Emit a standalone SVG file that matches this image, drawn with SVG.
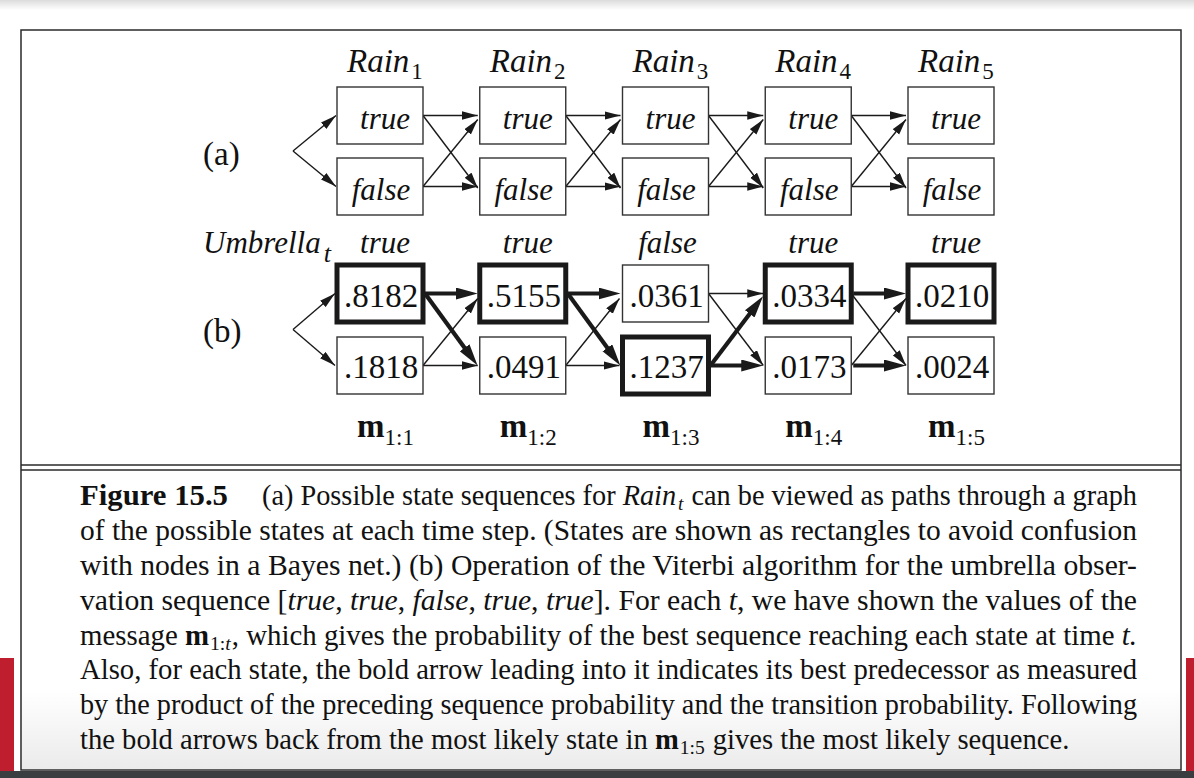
<svg xmlns="http://www.w3.org/2000/svg" width="1194" height="778" viewBox="0 0 1194 778">
<style>
.t{font-family:"Liberation Serif","Times New Roman",serif;fill:#111}
.it{font-style:italic}
.bd{font-weight:bold}
.lab{font-size:31px}
.rain{font-size:33px}
.num{font-size:33px}
.mid{text-anchor:middle}
.sub{font-size:23px}
.cap{font-size:28.6px}
.csub{font-size:19.5px}
.box{fill:#fff;stroke:#333;stroke-width:1.4}
.boxb{fill:#fff;stroke:#1a1a1a;stroke-width:5}
.thin{stroke:#1a1a1a;stroke-width:1.4;fill:none;marker-end:url(#ah)}
.bold{stroke:#1a1a1a;stroke-width:4.2;fill:none;marker-end:url(#ahb)}
</style>
<defs>
<marker id="ah" markerUnits="userSpaceOnUse" markerWidth="17" markerHeight="9" refX="16" refY="4.25" orient="auto"><path d="M0,0 L16,4.25 L0,8.5 z" fill="#1a1a1a"/></marker>
<marker id="ahb" markerUnits="userSpaceOnUse" markerWidth="23" markerHeight="13" refX="11" refY="6" orient="auto"><path d="M0,0 L22,6 L0,12 z" fill="#1a1a1a"/></marker>
<linearGradient id="topg" x1="0" y1="0" x2="0" y2="1"><stop offset="0" stop-color="#dcdcdc"/><stop offset="1" stop-color="#ffffff"/></linearGradient>
<linearGradient id="botg" x1="0" y1="0" x2="0" y2="1"><stop offset="0" stop-color="#ffffff"/><stop offset="1" stop-color="#ebebeb"/></linearGradient>
</defs>
<rect x="0" y="0" width="1194" height="778" fill="#ffffff"/>
<rect x="0" y="0" width="1194" height="10" fill="url(#topg)"/>
<g id="frame">
<rect x="21" y="30" width="1160" height="740" fill="#ffffff"/>
<rect x="22" y="690" width="1158" height="79" fill="url(#botg)"/>
<rect x="21" y="30" width="1160" height="740" fill="none" stroke="#2a2a2a" stroke-width="1.5"/>
<line x1="21" y1="465" x2="1181" y2="465" stroke="#2a2a2a" stroke-width="1.6"/>
<line x1="21" y1="470" x2="1181" y2="470" stroke="#2a2a2a" stroke-width="1.6"/>
</g>
<rect x="0" y="771" width="1194" height="7" fill="#3b3e41"/>
<rect x="0" y="658" width="14" height="113" fill="#be1e2d"/>
<rect x="1186" y="658" width="8" height="113" fill="#be1e2d"/>

<g id="labels">
<text class="t rain" x="203" y="165">(a)</text>
<text class="t rain" x="203" y="342">(b)</text>
<text class="t rain it" x="347" y="72">Rain<tspan class="sub" dy="7" dx="2" font-style="normal">1</tspan></text>
<text class="t rain it" x="489.75" y="72">Rain<tspan class="sub" dy="7" dx="2" font-style="normal">2</tspan></text>
<text class="t rain it" x="632.5" y="72">Rain<tspan class="sub" dy="7" dx="2" font-style="normal">3</tspan></text>
<text class="t rain it" x="775.25" y="72">Rain<tspan class="sub" dy="7" dx="2" font-style="normal">4</tspan></text>
<text class="t rain it" x="918" y="72">Rain<tspan class="sub" dy="7" dx="2" font-style="normal">5</tspan></text>
<text class="t lab it" x="203" y="253">Umbrella<tspan font-size="26" dy="9" dx="3">t</tspan></text>
<text class="t lab it mid" x="385" y="253">true</text>
<text class="t lab it mid" x="527.75" y="253">true</text>
<text class="t lab it mid" x="667.5" y="253">false</text>
<text class="t lab it mid" x="813.25" y="253">true</text>
<text class="t lab it mid" x="956" y="253">true</text>
<text class="t rain" x="357" y="437"><tspan class="bd">m</tspan><tspan class="sub" dy="8">1:1</tspan></text>
<text class="t rain" x="499.75" y="437"><tspan class="bd">m</tspan><tspan class="sub" dy="8">1:2</tspan></text>
<text class="t rain" x="642.5" y="437"><tspan class="bd">m</tspan><tspan class="sub" dy="8">1:3</tspan></text>
<text class="t rain" x="785.25" y="437"><tspan class="bd">m</tspan><tspan class="sub" dy="8">1:4</tspan></text>
<text class="t rain" x="928" y="437"><tspan class="bd">m</tspan><tspan class="sub" dy="8">1:5</tspan></text>
</g>

<g id="connectors">
<line class="thin" x1="293" y1="151" x2="336" y2="115.5"/>
<line class="thin" x1="293" y1="151" x2="336" y2="186.5"/>
<line class="thin" x1="423" y1="115.5" x2="477.75" y2="115.5"/>
<line class="thin" x1="423" y1="115.5" x2="477.75" y2="188"/>
<line class="thin" x1="423" y1="186.5" x2="477.75" y2="119.5"/>
<line class="thin" x1="423" y1="186.5" x2="477.75" y2="186.5"/>
<line class="thin" x1="565.75" y1="115.5" x2="620.5" y2="115.5"/>
<line class="thin" x1="565.75" y1="115.5" x2="620.5" y2="188"/>
<line class="thin" x1="565.75" y1="186.5" x2="620.5" y2="119.5"/>
<line class="thin" x1="565.75" y1="186.5" x2="620.5" y2="186.5"/>
<line class="thin" x1="708.5" y1="115.5" x2="763.25" y2="115.5"/>
<line class="thin" x1="708.5" y1="115.5" x2="763.25" y2="188"/>
<line class="thin" x1="708.5" y1="186.5" x2="763.25" y2="119.5"/>
<line class="thin" x1="708.5" y1="186.5" x2="763.25" y2="186.5"/>
<line class="thin" x1="851.25" y1="115.5" x2="906" y2="115.5"/>
<line class="thin" x1="851.25" y1="115.5" x2="906" y2="188"/>
<line class="thin" x1="851.25" y1="186.5" x2="906" y2="119.5"/>
<line class="thin" x1="851.25" y1="186.5" x2="906" y2="186.5"/>

<line class="thin" x1="293" y1="329.5" x2="335" y2="293.5"/>
<line class="thin" x1="293" y1="329.5" x2="335" y2="365.5"/>
<line class="bold" x1="425" y1="293.5" x2="466.75" y2="293.5"/>
<line class="bold" x1="425" y1="293.5" x2="471.1" y2="356.7"/>
<line class="thin" x1="423" y1="365.5" x2="477.75" y2="298.5"/>
<line class="thin" x1="423" y1="365.5" x2="477.75" y2="365.5"/>
<line class="bold" x1="567.75" y1="293.5" x2="609.5" y2="293.5"/>
<line class="bold" x1="567.75" y1="293.5" x2="613.85" y2="356.7"/>
<line class="thin" x1="565.75" y1="365.5" x2="619.5" y2="298.5"/>
<line class="thin" x1="565.75" y1="365.5" x2="619.5" y2="365.5"/>
<line class="thin" x1="708.5" y1="293.5" x2="763.25" y2="293.5"/>
<line class="thin" x1="708.5" y1="293.5" x2="763.25" y2="365.5"/>
<line class="bold" x1="710.5" y1="365.5" x2="756.4" y2="305.1"/>
<line class="bold" x1="710.5" y1="365.5" x2="752.25" y2="365.5"/>
<line class="bold" x1="853.25" y1="293.5" x2="895" y2="293.5"/>
<line class="thin" x1="851.25" y1="293.5" x2="906" y2="365.5"/>
<line class="thin" x1="851.25" y1="365.5" x2="906" y2="298.5"/>
<line class="bold" x1="853.25" y1="365.5" x2="895" y2="365.5"/>
</g>

<g id="a1t"><rect class="box" x="337" y="87" width="86" height="57"/><text class="t lab it mid" x="385" y="129">true</text></g>
<g id="a1f"><rect class="box" x="337" y="158" width="86" height="57"/><text class="t lab it mid" x="381" y="200">false</text></g>
<g id="a2t"><rect class="box" x="479.75" y="87" width="86" height="57"/><text class="t lab it mid" x="527.75" y="129">true</text></g>
<g id="a2f"><rect class="box" x="479.75" y="158" width="86" height="57"/><text class="t lab it mid" x="523.75" y="200">false</text></g>
<g id="a3t"><rect class="box" x="622.5" y="87" width="86" height="57"/><text class="t lab it mid" x="670.5" y="129">true</text></g>
<g id="a3f"><rect class="box" x="622.5" y="158" width="86" height="57"/><text class="t lab it mid" x="666.5" y="200">false</text></g>
<g id="a4t"><rect class="box" x="765.25" y="87" width="86" height="57"/><text class="t lab it mid" x="813.25" y="129">true</text></g>
<g id="a4f"><rect class="box" x="765.25" y="158" width="86" height="57"/><text class="t lab it mid" x="809.25" y="200">false</text></g>
<g id="a5t"><rect class="box" x="908" y="87" width="86" height="57"/><text class="t lab it mid" x="956" y="129">true</text></g>
<g id="a5f"><rect class="box" x="908" y="158" width="86" height="57"/><text class="t lab it mid" x="952" y="200">false</text></g>

<g id="b1t"><rect class="boxb" x="337" y="265" width="86" height="57"/><text class="t num mid" x="381" y="307">.8182</text></g>
<g id="b1f"><rect class="box" x="337" y="337" width="86" height="57"/><text class="t num mid" x="381" y="378">.1818</text></g>
<g id="b2t"><rect class="boxb" x="479.75" y="265" width="86" height="57"/><text class="t num mid" x="523.75" y="307">.5155</text></g>
<g id="b2f"><rect class="box" x="479.75" y="337" width="86" height="57"/><text class="t num mid" x="523.75" y="378">.0491</text></g>
<g id="b3t"><rect class="box" x="622.5" y="265" width="86" height="57"/><text class="t num mid" x="666.5" y="307">.0361</text></g>
<g id="b3f"><rect class="boxb" x="622.5" y="337" width="86" height="57"/><text class="t num mid" x="666.5" y="378">.1237</text></g>
<g id="b4t"><rect class="boxb" x="765.25" y="265" width="86" height="57"/><text class="t num mid" x="809.25" y="307">.0334</text></g>
<g id="b4f"><rect class="box" x="765.25" y="337" width="86" height="57"/><text class="t num mid" x="809.25" y="378">.0173</text></g>
<g id="b5t"><rect class="boxb" x="908" y="265" width="86" height="57"/><text class="t num mid" x="952" y="307">.0210</text></g>
<g id="b5f"><rect class="box" x="908" y="337" width="86" height="57"/><text class="t num mid" x="952" y="378">.0024</text></g>

<g id="caption">
<text class="t cap bd" x="80" y="505" textLength="148" lengthAdjust="spacingAndGlyphs">Figure 15.5</text>
<text class="t cap" x="262" y="505" textLength="875" lengthAdjust="spacingAndGlyphs">(a) Possible state sequences for<tspan class="it"> Rain</tspan><tspan class="it csub" dy="4.5" dx="2">t</tspan><tspan dy="-4.5" dx="1"> can be viewed as paths through a graph</tspan></text>
<text class="t cap" x="80" y="540" textLength="1057" lengthAdjust="spacingAndGlyphs">of the possible states at each time step.  (States are shown as rectangles to avoid confusion</text>
<text class="t cap" x="80" y="575" textLength="1057" lengthAdjust="spacingAndGlyphs">with nodes in a Bayes net.)  (b) Operation of the Viterbi algorithm for the umbrella obser-</text>
<text class="t cap" x="80" y="610" textLength="1057" lengthAdjust="spacingAndGlyphs">vation sequence [<tspan class="it">true</tspan>, <tspan class="it">true</tspan>, <tspan class="it">false</tspan>, <tspan class="it">true</tspan>, <tspan class="it">true</tspan>].  For each <tspan class="it">t</tspan>, we have shown the values of the</text>
<text class="t cap" x="80" y="645" textLength="1057" lengthAdjust="spacingAndGlyphs">message <tspan class="bd">m</tspan><tspan class="csub" dy="4.5" dx="1">1:<tspan class="it">t</tspan></tspan><tspan dy="-4.5" dx="1">, which gives the probability of the best sequence reaching each state at time</tspan><tspan class="it"> t.</tspan></text>
<text class="t cap" x="80" y="679" textLength="1057" lengthAdjust="spacingAndGlyphs">Also, for each state, the bold arrow leading into it indicates its best predecessor as measured</text>
<text class="t cap" x="80" y="714" textLength="1057" lengthAdjust="spacingAndGlyphs">by the product of the preceding sequence probability and the transition probability. Following</text>
<text class="t cap" x="80" y="749">the bold arrows back from the most likely state in <tspan class="bd">m</tspan><tspan class="csub" dy="5" dx="1">1:5</tspan><tspan dy="-5" dx="1"> gives the most likely sequence.</tspan></text>
</g>
</svg>
